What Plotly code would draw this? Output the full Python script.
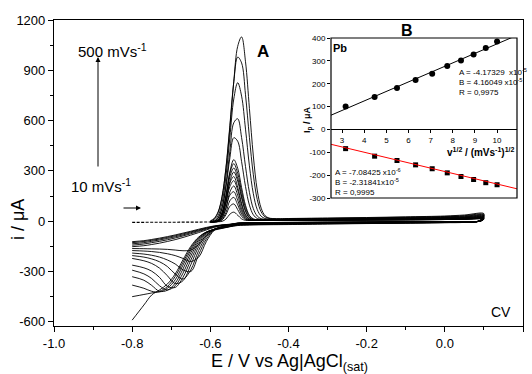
import plotly.graph_objects as go

# ---------------- main CV data (E in V, i in uA) ----------------
E_START = [-0.80, -0.70, -0.60]
I_START = [-7, -6, -5]

E_FWD = [-0.60, -0.59, -0.58, -0.57, -0.56, -0.55, -0.54, -0.53, -0.52, -0.51, -0.50,
         -0.49, -0.48, -0.47, -0.46, -0.45, -0.44, -0.42, -0.40, -0.30, -0.20, -0.10,
         0.00, 0.05, 0.10]

I_FWD = [
    [-4, -4, -3, -1, 13, 42, 54, 36, 14, 5, 5, 5, 5, 5, 5, 5, 5, 5, 5, 6, 7, 8, 10, 11, 13],
    [-4, -4, -2, 7, 39, 89, 103, 69, 29, 10, 5, 5, 5, 5, 5, 5, 5, 5, 5, 6, 7, 8, 10, 11, 13],
    [-4, -4, -2, 11, 53, 122, 142, 98, 43, 14, 6, 5, 5, 5, 5, 5, 5, 5, 5, 6, 7, 8, 10, 12, 14],
    [-4, -4, 0, 20, 77, 156, 176, 125, 58, 19, 7, 5, 5, 5, 5, 5, 5, 6, 6, 7, 8, 9, 11, 13, 15],
    [-4, -4, 0, 20, 81, 175, 210, 155, 74, 25, 9, 6, 6, 6, 6, 6, 6, 6, 6, 7, 8, 10, 12, 14, 16],
    [-4, -3, 3, 32, 107, 207, 242, 185, 97, 36, 12, 7, 6, 6, 6, 6, 6, 7, 7, 8, 9, 11, 13, 15, 18],
    [-4, -3, 4, 35, 117, 228, 266, 203, 106, 39, 13, 7, 7, 7, 7, 7, 7, 7, 7, 8, 10, 12, 14, 16, 19],
    [-4, -3, 3, 33, 117, 238, 293, 239, 139, 59, 20, 8, 7, 7, 7, 7, 7, 7, 8, 9, 10, 12, 15, 17, 20],
    [-4, -2, 8, 48, 142, 265, 317, 258, 150, 63, 21, 9, 8, 8, 8, 8, 8, 8, 8, 10, 12, 14, 17, 20, 23],
    [-4, -2, 9, 52, 154, 286, 343, 286, 176, 81, 30, 12, 8, 8, 8, 8, 8, 8, 9, 10, 12, 15, 18, 21, 24],
    [-4, -3, 7, 49, 151, 294, 367, 316, 200, 95, 35, 14, 9, 9, 9, 9, 9, 9, 9, 11, 13, 16, 19, 22, 26],
    [-3, 0, 18, 75, 203, 378, 498, 477, 355, 207, 96, 38, 16, 11, 10, 10, 10, 10, 11, 13, 15, 18, 22, 25, 30],
    [-3, 1, 21, 82, 219, 418, 587, 611, 499, 326, 172, 75, 31, 15, 11, 11, 11, 11, 12, 14, 16, 19, 23, 27, 32],
    [-2, 6, 33, 110, 268, 501, 729, 826, 746, 549, 330, 164, 70, 30, 16, 13, 12, 12, 13, 16, 18, 22, 26, 30, 36],
    [0, 13, 51, 144, 321, 572, 830, 979, 944, 754, 500, 277, 130, 56, 26, 17, 14, 13, 15, 17, 20, 24, 28, 33, 40],
    [2, 17, 57, 147, 315, 558, 833, 1043, 1099, 951, 672, 389, 186, 78, 33, 19, 16, 15, 16, 19, 22, 26, 31, 37, 45],
]

E_REV = [0.09, 0.05, 0.00, -0.10, -0.20, -0.30, -0.40, -0.45, -0.50, -0.53,
         -0.55, -0.57, -0.59, -0.61, -0.63, -0.65, -0.67, -0.69, -0.71, -0.73, -0.75, -0.77, -0.80]

I_REV = [
    [0, -2, -3, -4, -5, -6, -7, -8, -9, -11, -18, -22, -28, -37, -48, -60, -71, -82, -92, -101, -109, -116, -122],
    [0, -2, -3, -4, -5, -6, -7, -8, -10, -12, -19, -23, -30, -40, -52, -64, -76, -87, -97, -106, -114, -121, -128],
    [0, -2, -3, -4, -5, -6, -8, -9, -10, -12, -20, -24, -32, -43, -56, -69, -82, -93, -103, -112, -120, -128, -135],
    [0, -2, -3, -5, -6, -7, -8, -9, -11, -13, -21, -25, -34, -47, -61, -75, -88, -100, -111, -120, -128, -136, -143],
    [0, -3, -4, -5, -6, -7, -9, -10, -11, -13, -22, -27, -37, -52, -68, -83, -97, -110, -121, -131, -139, -146, -152],
    [1, -3, -4, -5, -6, -8, -9, -10, -12, -14, -23, -31, -48, -85, -140, -172, -176, -172, -168, -166, -165, -164, -163],
    [1, -3, -4, -6, -7, -8, -10, -11, -12, -15, -24, -33, -55, -120, -215, -240, -222, -205, -194, -186, -181, -178, -175],
    [1, -3, -5, -6, -7, -9, -10, -11, -13, -15, -25, -34, -52, -105, -200, -300, -290, -255, -231, -214, -203, -196, -190],
    [2, -4, -5, -7, -8, -10, -11, -12, -14, -16, -26, -35, -50, -92, -175, -290, -345, -315, -270, -242, -225, -214, -205],
    [2, -4, -5, -7, -8, -10, -12, -13, -15, -17, -27, -36, -49, -82, -152, -260, -355, -372, -325, -280, -252, -236, -222],
    [2, -4, -6, -8, -9, -11, -13, -14, -16, -18, -28, -37, -48, -75, -135, -232, -335, -395, -388, -335, -298, -278, -262],
    [3, -5, -7, -9, -11, -13, -15, -16, -18, -20, -29, -38, -48, -70, -122, -208, -310, -385, -410, -385, -342, -314, -292],
    [3, -5, -7, -9, -11, -13, -15, -17, -19, -21, -30, -39, -48, -67, -112, -188, -285, -370, -412, -418, -383, -352, -331],
    [4, -6, -8, -10, -12, -14, -17, -18, -20, -23, -31, -40, -49, -65, -104, -172, -262, -350, -400, -422, -418, -400, -381],
    [4, -6, -8, -11, -13, -15, -18, -19, -21, -24, -32, -41, -50, -64, -98, -160, -245, -330, -390, -418, -428, -437, -450],
    [5, -7, -9, -12, -14, -17, -20, -21, -23, -26, -33, -43, -53, -66, -95, -150, -230, -315, -375, -410, -440, -500, -590],
]

X_TICKS = [-1.0, -0.8, -0.6, -0.4, -0.2, 0.0, 0.2]
X_LABELS = ["-1.0", "-0.8", "-0.6", "-0.4", "-0.2", "0.0", "0.2"]
Y_TICKS = [-600, -300, 0, 300, 600, 900, 1200]
Y_LABELS = ["-600", "-300", "0", "300", "600", "900", "1200"]

# ---------------- inset data ----------------
SQRT_V = [3.16, 4.47, 5.48, 6.32, 7.07, 7.75, 8.37, 8.94, 9.49, 10.0]
IP_ANODIC = [100, 142, 181, 216, 244, 277, 302, 328, 356, 385]
IP_CATHODIC = [-84, -117, -136, -155, -172, -190, -206, -219, -233, -242]
FIT_A = [-4.17329e-5, -7.08425e-6]   # A (amps)
FIT_B = [4.16049e-5, -2.31841e-5]    # A per (mV/s)^1/2
FIT_X = [2.5, 10.9]
IN_X_TICKS = [3, 4, 5, 6, 7, 8, 9, 10]
IN_Y_TICKS = [-300, -200, -100, 0, 100, 200, 300, 400]
IN_Y_LABELS = ["-300", "-200", "-100", "0", "100", "200", "300", "400"]

FONT = "Liberation Sans, Arial, Helvetica, sans-serif"

fig = go.Figure()

fig.add_trace(go.Scatter(x=E_START, y=I_START, mode="lines",
                         line=dict(color="black", width=1.1, dash="3px,1.5px"),
                         hoverinfo="skip"))
for f_vals, r_vals in zip(I_FWD, I_REV):
    fig.add_trace(go.Scatter(x=E_FWD + E_REV, y=f_vals + r_vals, mode="lines",
                             line=dict(color="black", width=0.9, shape="spline", smoothing=1.0),
                             hoverinfo="skip"))

# inset
fig.add_trace(go.Scatter(x=SQRT_V, y=IP_ANODIC, mode="markers", xaxis="x2", yaxis="y2",
                         marker=dict(symbol="circle", size=6, color="black")))
fig.add_trace(go.Scatter(x=SQRT_V, y=IP_CATHODIC, mode="markers", xaxis="x2", yaxis="y2",
                         marker=dict(symbol="square", size=5, color="black")))
fig.add_trace(go.Scatter(x=FIT_X, y=[(FIT_A[0] + FIT_B[0] * v) * 1e6 for v in FIT_X], mode="lines",
                         xaxis="x2", yaxis="y2", line=dict(color="black", width=1)))
fig.add_trace(go.Scatter(x=FIT_X, y=[(FIT_A[1] + FIT_B[1] * v) * 1e6 for v in FIT_X], mode="lines",
                         xaxis="x2", yaxis="y2", line=dict(color="red", width=1)))

W, H = 532, 374
ML, MR, MT, MB = 54, 9, 20, 48
PW, PH = W - ML - MR, H - MT - MB


def P(px, py):
    return (px - ML) / PW, (H - MB - py) / PH


in_x0, _ = P(331, 0)
in_x1, _ = P(517, 0)
_, in_y0 = P(0, 198)
_, in_y1 = P(0, 38)
zero_pos = in_y0 + (0 - IN_Y_TICKS[0]) / (IN_Y_TICKS[-1] - IN_Y_TICKS[0]) * (in_y1 - in_y0)

axis_common = dict(showgrid=False, zeroline=False, showline=True, linecolor="black",
                   ticks="outside", tickcolor="black")

fig.update_layout(
    width=W, height=H, margin=dict(l=ML, r=MR, t=MT, b=MB),
    paper_bgcolor="white", plot_bgcolor="white", showlegend=False,
    font=dict(family=FONT, color="black"),
    xaxis=dict(range=[-1.0, 0.2], tickmode="array", tickvals=X_TICKS, ticktext=X_LABELS,
               ticklen=5, tickwidth=1, linewidth=1.2, mirror=True, tickfont=dict(size=13),
               minor=dict(tickmode="linear", tick0=-1.0, dtick=0.1, ticks="outside",
                          ticklen=3, tickcolor="black", showgrid=False),
               **axis_common),
    yaxis=dict(range=[-625, 1200], tickmode="array", tickvals=Y_TICKS, ticktext=Y_LABELS,
               ticklen=5, tickwidth=1, linewidth=1.2, mirror=True, tickfont=dict(size=13),
               minor=dict(tickmode="linear", tick0=-600, dtick=150, ticks="outside",
                          ticklen=3, tickcolor="black", showgrid=False),
               **axis_common),
    xaxis2=dict(domain=[in_x0, in_x1], anchor="free", position=zero_pos, range=[2.5, 10.9],
                tickmode="array", tickvals=IN_X_TICKS, ticklen=3, linewidth=1,
                tickfont=dict(size=8), **axis_common),
    yaxis2=dict(domain=[in_y0, in_y1], anchor="x2", range=[-300, 400], tickmode="array",
                tickvals=IN_Y_TICKS, ticktext=IN_Y_LABELS, ticklen=3, tickfont=dict(size=8),
                showgrid=False, zeroline=False, showline=False, ticks="outside", tickcolor="black"),
)

fig.add_shape(type="rect", xref="x2 domain", yref="y2 domain", x0=0, x1=1, y0=0, y1=1,
              line=dict(color="black", width=1.2), fillcolor="rgba(0,0,0,0)")

annots = []


def txt(text, px, py, size, bold=False, xanchor="center", angle=0):
    x, y = P(px, py)
    if bold:
        text = "<b>" + text + "</b>"
    annots.append(dict(text=text, x=x, y=y, xref="paper", yref="paper", showarrow=False,
                       xanchor=xanchor, yanchor="middle", textangle=angle,
                       font=dict(size=size, family=FONT, color="black")))


txt("500 mVs<sup>-1</sup>", 112, 50, 15)
txt("10 mVs<sup>-1</sup>", 101, 185, 15)
txt("A", 263, 52, 17, bold=True)
txt("CV", 501, 312, 14)
txt("i / μA", 18, 220, 18, angle=-90)
txt("E / V vs Ag|AgCl<sub>(sat)</sub>", 289, 362, 18)
txt("B", 407, 31, 16, bold=True)
txt("Pb", 340, 48, 11, bold=True)
txt("A = -4.17329  x10<sup>-5</sup>", 457, 72, 8, xanchor="left")
txt("B = 4.16049 x10<sup>-5</sup>", 457, 82, 8, xanchor="left")
txt("R = 0,9975", 457, 92, 8, xanchor="left")
txt("A = -7.08425 x10<sup>-6</sup>", 333, 172, 8, xanchor="left")
txt("B = -2.31841x10<sup>-5</sup>", 333, 182, 8, xanchor="left")
txt("R = 0,9995", 333, 192, 8, xanchor="left")
txt("I<sub>p</sub> / μA", 308, 120, 9, bold=True, angle=-90)
txt("v<sup>1/2</sup> / (mVs<sup>-1</sup>)<sup>1/2</sup>", 517, 152, 10, bold=True, xanchor="right")

hx, hy = P(98, 57)
annots.append(dict(x=hx, y=hy, xref="paper", yref="paper", text="", showarrow=True,
                   ax=0, ay=111, arrowhead=2, arrowsize=1, arrowwidth=1, arrowcolor="black"))
hx, hy = P(141, 208)
annots.append(dict(x=hx, y=hy, xref="paper", yref="paper", text="", showarrow=True,
                   ax=-19, ay=0, arrowhead=2, arrowsize=1, arrowwidth=1, arrowcolor="black"))

fig.update_layout(annotations=annots)

fig.write_html("out.html", config={"displayModeBar": False},
               post_script="document.body.style.margin='0';document.body.style.padding='0';")
